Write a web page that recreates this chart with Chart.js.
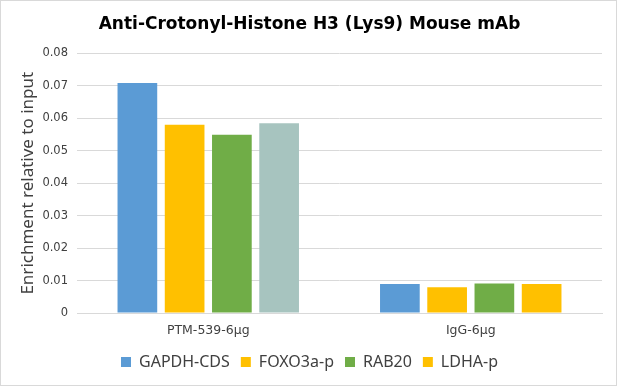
<!DOCTYPE html>
<html>
<head>
<meta charset="utf-8">
<script src="https://cdn.jsdelivr.net/npm/chart.js@4"></script>
<style>
    html, body { margin: 0; padding: 0; background: #fff; }
    #wrap {
        width: 617px; height: 386px; box-sizing: border-box;
        border: 1px solid #d9d9d9; position: relative;
    }
</style>
</head>
<body>
<div id="wrap"><canvas id="chart"></canvas></div>
<script>
// ---- data ----
var categories = ['PTM-539-6\u03bcg', 'IgG-6\u03bcg'];
var seriesNames = ['GAPDH-CDS', 'FOXO3a-p', 'RAB20', 'LDHA-p'];
var gapdh = [0.0709, 0.0089];
var foxo3a = [0.0580, 0.0079];
var rab20 = [0.0549, 0.0091];
var ldha = [0.0585, 0.0089];
var yTicks = [0, 0.01, 0.02, 0.03, 0.04, 0.05, 0.06, 0.07, 0.08];

// colours (LDHA-p first bar is drawn grey-teal in the original)
var colors = ['#5B9BD5', '#FFC000', '#70AD47', '#FFC000'];
var ldhaFirstBar = '#A7C4BF';

var values = [gapdh, foxo3a, rab20, ldha];
var FONT = '"Noto Sans", sans-serif';
var WIDE_FONT = '"DejaVu Sans", sans-serif';

var datasets = seriesNames.map(function(name, i) {
    var ds = {
        label: name,
        data: values[i],
        backgroundColor: colors[i],
        borderWidth: 0,
        barPercentage: 0.84,
        categoryPercentage: 0.72
    };
    if (i === 3) {
        ds.backgroundColor = function(ctx) {
            return ctx.dataIndex === 0 ? ldhaFirstBar : colors[3];
        };
    }
    return ds;
});

Chart.defaults.font.family = FONT;
Chart.defaults.color = '#595959';

new Chart(document.getElementById('chart'), {
    type: 'bar',
    data: { labels: categories, datasets: datasets },
    options: {
        responsive: true,
        maintainAspectRatio: false,
        animation: false,
        layout: { padding: { left: 16, right: 14, top: 6, bottom: 5 } },
        plugins: {
            title: {
                display: true,
                text: 'Anti-Crotonyl-Histone H3 (Lys9) Mouse mAb',
                color: '#000',
                font: { family: WIDE_FONT, size: 17, weight: 'bold' },
                padding: { top: 7, bottom: 19 }
            },
            legend: {
                position: 'bottom',
                labels: {
                    boxWidth: 10,
                    boxHeight: 10,
                    padding: 11,
                    color: '#404040',
                    font: { family: FONT, size: 16 },
                    generateLabels: function(chart) {
                        var items = Chart.defaults.plugins.legend.labels.generateLabels(chart);
                        items.forEach(function(it, i) { it.fillStyle = colors[i]; });
                        return items;
                    }
                }
            },
            tooltip: { enabled: false }
        },
        scales: {
            x: {
                grid: { display: false, drawTicks: false },
                border: { color: '#d9d9d9' },
                ticks: { font: { family: WIDE_FONT, size: 12.5 }, color: '#404040', padding: 10 },
                afterFit: function(axis) { axis.height = 30; }
            },
            y: {
                min: 0,
                max: 0.08,
                afterBuildTicks: function(axis) {
                    axis.ticks = yTicks.map(function(v) { return { value: v }; });
                },
                afterFit: function(axis) { axis.width = 60; },
                grid: { color: '#d9d9d9', drawTicks: false },
                border: { display: false },
                ticks: {
                    font: { family: WIDE_FONT, size: 11.5 },
                    color: '#404040',
                    padding: 9,
                    callback: function(v) { return v === 0 ? '0' : v.toFixed(2); }
                },
                title: {
                    display: true,
                    text: 'Enrichment relative to input',
                    color: '#404040',
                    font: { family: FONT, size: 17 },
                    padding: 1
                }
            }
        }
    }
});
</script>
</body>
</html>
